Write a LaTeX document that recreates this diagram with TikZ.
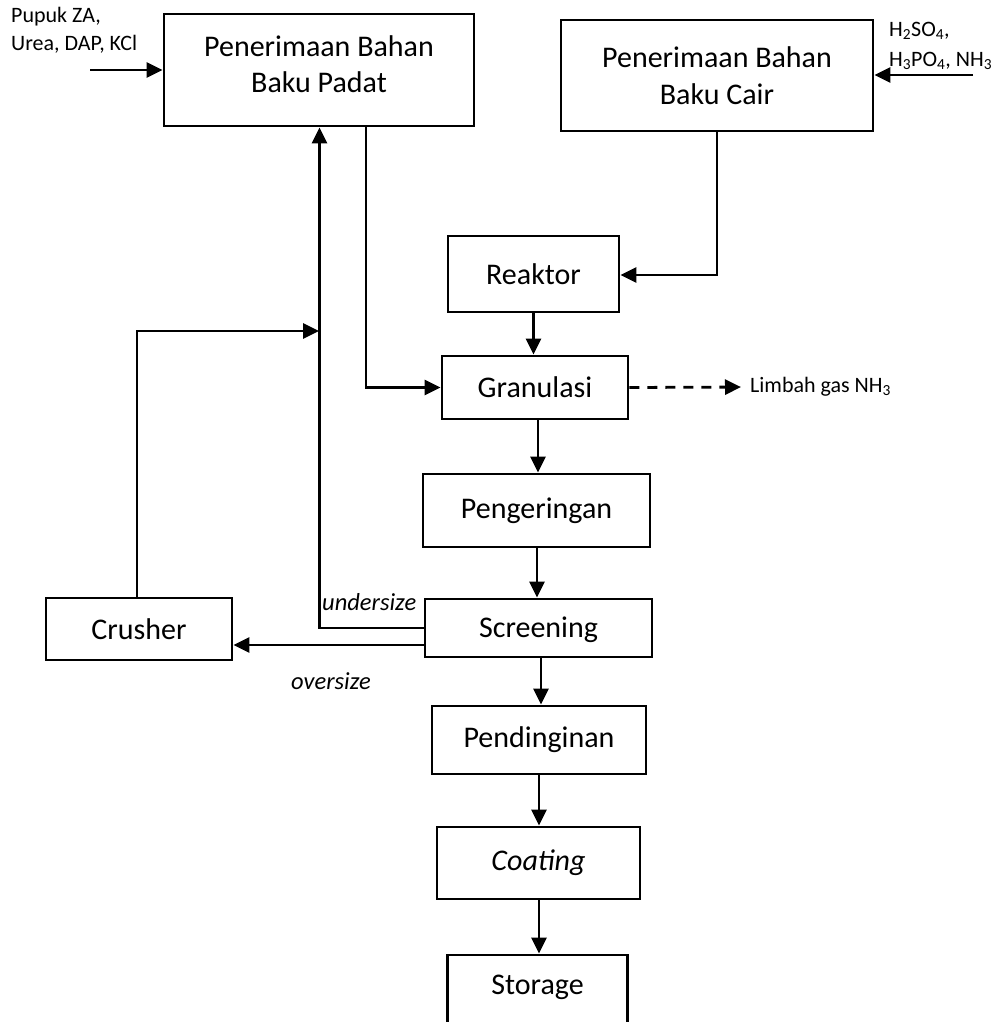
\documentclass[tikz,border=0pt]{standalone}
\usepackage{fontspec}
\setmainfont{Carlito}
\usetikzlibrary{arrows.meta}
\begin{document}
\begin{tikzpicture}[x=1pt,y=-1pt,
  box/.style={draw,line width=2.8pt,rectangle,inner sep=0pt,font=\fontsize{30}{37}\selectfont,align=center},
  txt/.style={inner sep=0pt,font=\fontsize{30}{37}\selectfont,align=center},
  arr/.style={line width=2.8pt,-{Triangle[length=16pt,width=15pt]}},
  small/.style={font=\fontsize{22}{28}\selectfont,inner sep=0pt},
  lab/.style={font=\fontsize{24.5}{28}\selectfont\itshape,inner sep=0pt}]
\useasboundingbox (0,0) rectangle (992,1022);
\node[box,minimum width=310pt,minimum height=112pt] (padat) at (319,70) {};
\node[txt] (padattxt) at (319,64) {Penerimaan Bahan\\[-1pt]Baku Padat};
\node[box,minimum width=312pt,minimum height=111pt] (cair) at (717,75.5) {Penerimaan Bahan\\Baku Cair};
\node[box,minimum width=171pt,minimum height=76pt] (reak) at (533.5,274) {Reaktor};
\node[box,minimum width=186pt,minimum height=63pt] (gran) at (535,387.5) {Granulasi};
\node[box,minimum width=227pt,minimum height=73pt] (peng) at (536.5,510.5) {Pengeringan};
\node[box,minimum width=227pt,minimum height=58pt] (scr) at (538.5,628) {};
\node[txt] (scrtxt) at (538.5,630) {Screening};
\node[box,minimum width=186pt,minimum height=62pt] (crush) at (139,629) {Crusher};
\node[box,minimum width=214pt,minimum height=68pt] (pend) at (539,740) {Pendinginan};
\node[box,minimum width=203pt,minimum height=72pt] (coat) at (538.5,863) {\itshape Coating};
\node[draw,line width=2.8pt,minimum width=180pt,minimum height=110pt,inner sep=0pt] (stor) at (537.5,1010) {};
\node[txt] (stortxt) at (537.5,987) {Storage};
\node[small,anchor=north west,align=left] (pupuk) at (11,7) {Pupuk ZA,\\Urea, DAP, KCl};
\node[small,anchor=north west,align=left,font=\fontsize{22}{30}\selectfont] (acid) at (889,22) {H\textsubscript{2}SO\textsubscript{4},\\H\textsubscript{3}PO\textsubscript{4}, NH\textsubscript{3}};
\node[small,anchor=west] (limbah) at (750,387) {Limbah gas NH\textsubscript{3}};
\node[lab,anchor=south west] (under) at (322,611) {undersize};
\node[lab] (over) at (331,681) {oversize};
\coordinate (pin) at (90,70);
\coordinate (cin) at (973,75);
\coordinate (j) at (319,331);
\draw[arr] (pin) -- (pin -| padat.west);
\draw[arr] (cin) -- (cin -| cair.east);
\draw[arr] (cair.south) |- ([yshift=-1pt]reak.east);
\draw[arr] (reak.south) -- (reak.south |- gran.north);
\draw[arr] ([xshift=47pt]padat.south) |- (gran.west);
\draw[arr,dash pattern=on 10pt off 8pt,shorten >=9pt] (gran.east) -- (limbah.west);
\draw[arr] ([xshift=3pt]gran.south) -- ([xshift=3pt]gran.south |- peng.north);
\draw[arr] ([xshift=0.5pt]peng.south) -- ([xshift=0.5pt]peng.south |- scr.north);
\draw[arr] ([xshift=2.5pt]scr.south) -- ([xshift=2.5pt]scr.south |- pend.north);
\draw[arr] (pend.south) -- (pend.south |- coat.north);
\draw[arr] ([xshift=0.5pt]coat.south) -- ([xshift=0.5pt]coat.south |- stor.north);
\draw[arr] (scr.west) -| ([xshift=0.5pt]padat.south);
\draw[arr] ([yshift=-17pt]scr.west) -- ([yshift=-17pt]scr.west -| crush.east);
\draw[arr] ([xshift=-2pt]crush.north) |- (j);
\end{tikzpicture}
\end{document}
